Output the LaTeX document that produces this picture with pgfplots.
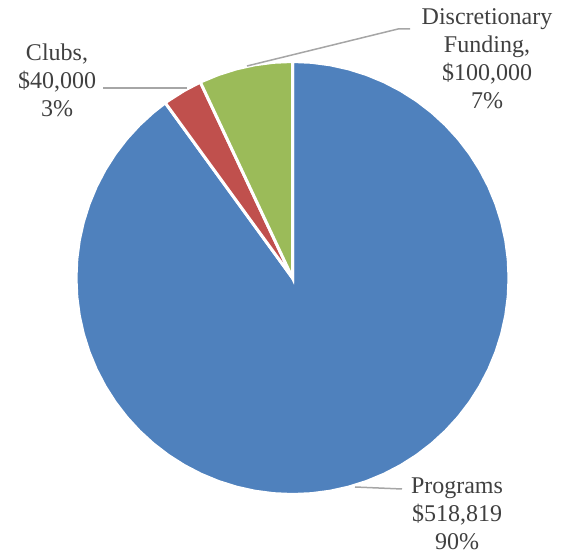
\documentclass[border=0pt]{standalone}
\usepackage{pgfplots}
\pgfplotsset{compat=1.18}
\usepgfplotslibrary{polar}
\usepackage{fontspec}
\setmainfont{Liberation Serif}
\definecolor{cblue}{RGB}{79,129,189}
\definecolor{cred}{RGB}{192,80,77}
\definecolor{cgreen}{RGB}{155,187,89}
\definecolor{ctext}{RGB}{64,64,64}
\definecolor{cline}{RGB}{166,166,166}
\begin{document}
% Shares: Programs 90% ($518,819), Clubs 3% ($40,000), Discretionary Funding 7% ($100,000)
% Slices start at 90 deg and run clockwise: Programs 90 -> -234, Clubs -234 -> -244.8, Discretionary -244.8 -> -270
\begin{tikzpicture}
\begin{axis}[
  hide axis, scale only axis, clip=false,
  width=565pt, height=554pt,
  xmin=-292.5, xmax=272.5, ymin=-276, ymax=278,
]
\addplot[fill=cblue, draw=white, line width=3pt, mark=none, data cs=polar] coordinates {
(0,0) (90,216.5) (85,216.5) (80,216.5) (75,216.5) (70,216.5) (65,216.5) (60,216.5) (55,216.5)
(50,216.5) (45,216.5) (40,216.5) (35,216.5) (30,216.5) (25,216.5) (20,216.5) (15,216.5) (10,216.5)
(5,216.5) (0,216.5) (-5,216.5) (-10,216.5) (-15,216.5) (-20,216.5) (-25,216.5) (-30,216.5) (-35,216.5)
(-40,216.5) (-45,216.5) (-50,216.5) (-55,216.5) (-60,216.5) (-65,216.5) (-70,216.5) (-75,216.5)
(-80,216.5) (-85,216.5) (-90,216.5) (-95,216.5) (-100,216.5) (-105,216.5) (-110,216.5) (-115,216.5)
(-120,216.5) (-125,216.5) (-130,216.5) (-135,216.5) (-140,216.5) (-145,216.5) (-150,216.5) (-155,216.5)
(-160,216.5) (-165,216.5) (-170,216.5) (-175,216.5) (-180,216.5) (-185,216.5) (-190,216.5) (-195,216.5)
(-200,216.5) (-205,216.5) (-210,216.5) (-215,216.5) (-220,216.5) (-225,216.5) (-230,216.5) (-234,216.5)
} -- cycle;
\addplot[fill=cred, draw=white, line width=3pt, mark=none, data cs=polar] coordinates {
(0,0) (-234,216.5) (-235,216.5) (-240,216.5) (-244.8,216.5)
} -- cycle;
\addplot[fill=cgreen, draw=white, line width=3pt, mark=none, data cs=polar] coordinates {
(0,0) (-244.8,216.5) (-245,216.5) (-250,216.5) (-255,216.5) (-260,216.5) (-265,216.5) (-270,216.5)
} -- cycle;
% leader lines
\draw[cline, line width=1.5pt] (axis cs:-189.5,190) -- (axis cs:-105.5,190);
\draw[cline, line width=1.5pt] (axis cs:-45.5,212) -- (axis cs:105.5,249) -- (axis cs:117.5,249);
\draw[cline, line width=1.5pt] (axis cs:62.5,-209) -- (axis cs:109.5,-211);
% labels
\tikzset{lab/.style={ctext, align=center, inner sep=0pt, font=\fontsize{24}{28}\selectfont}}
\node[lab] at (axis cs:-235.5,198) {Clubs,\\\$40,000\\3\%};
\node[lab] at (axis cs:194.5,219) {Discretionary\\Funding,\\\$100,000\\7\%};
\node[lab] at (axis cs:164.5,-236) {Programs\\\$518,819\\90\%};
\end{axis}
\pgfresetboundingbox
\useasboundingbox (current axis.south west) rectangle (current axis.north east);
\end{tikzpicture}
\end{document}
